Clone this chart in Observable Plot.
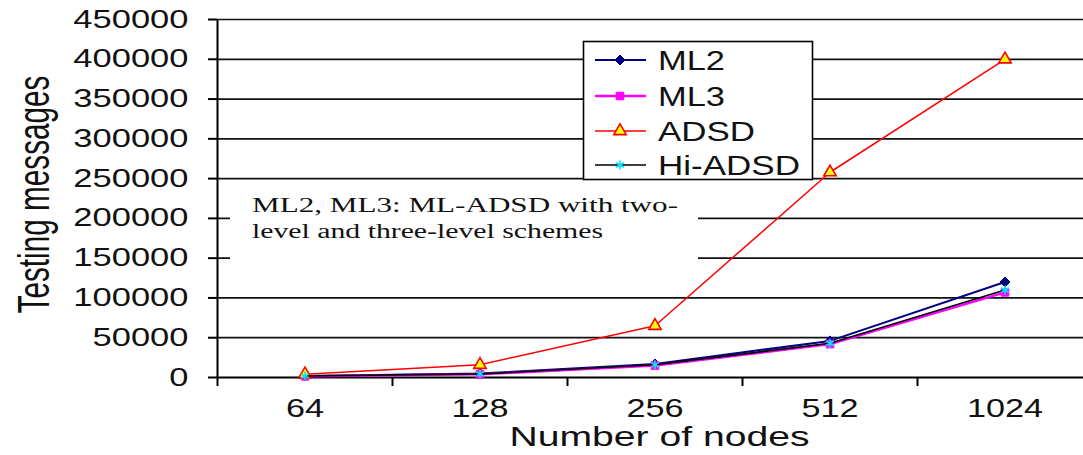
<!DOCTYPE html>
<html><head><meta charset="utf-8">
<script src="https://cdn.jsdelivr.net/npm/d3@7"></script>
<script src="https://cdn.jsdelivr.net/npm/@observablehq/plot@0.6"></script>
<style>
body{margin:0;background:#fff}
#chart{position:relative;width:1083px;height:455px}
</style>
</head><body><div id="chart"></div>
<script>
// ---- data ----
const nodes = ["64", "128", "256", "512", "1024"];
const seriesNames = ["ML2", "ML3", "ADSD", "Hi-ADSD"];
const ml2 = [2000, 5000, 17000, 46000, 120000];
const ml3 = [1500, 4000, 15000, 42000, 107000];
const adsd = [4000, 16000, 65000, 258000, 400000];
const hiAdsd = [1800, 4500, 16000, 43000, 110000];
const yTicks = [0, 50000, 100000, 150000, 200000, 250000, 300000, 350000, 400000, 450000];
const xTitle = "Number of nodes";
const yTitle = "Testing messages";
const annotationLines = ["ML2, ML3: ML-ADSD with two-", "level and three-level schemes"];

// ---- styles ----
const seriesValues = {"ML2": ml2, "ML3": ml3, "ADSD": adsd, "Hi-ADSD": hiAdsd};
const styles = {
  "ML2":     {line: "#000080", lw: 2,   symbol: d3.symbolDiamond2, fill: "#000080", stroke: "#000080", sw: 1, r: 4.5},
  "ML3":     {line: "#ff00ff", lw: 2.5, symbol: d3.symbolSquare,   fill: "#ff00ff", stroke: "#ff00ff", sw: 1, r: 4.3},
  "ADSD":    {line: "#ff0000", lw: 1.5, symbol: d3.symbolTriangle, fill: "#ffff00", stroke: "#ff0000", sw: 1.6, r: 4.6},
  "Hi-ADSD": {line: "#000000", lw: 1.6, symbol: d3.symbolAsterisk, fill: "none",    stroke: "#00e5ff", sw: 1.6, r: 4.2}
};

const rows = seriesNames.flatMap(s => nodes.map((n, i) => ({series: s, nodes: n, value: seriesValues[s][i]})));

const X0 = 217, X1 = 1092, BW = (X1 - X0) / nodes.length;

const marks = [
  Plot.ruleY(yTicks.filter(v => v > 0), {stroke: "#111", strokeWidth: 1.7}),
  Plot.ruleY([0], {stroke: "#000", strokeWidth: 2}),
  Plot.ruleX([nodes[0]], {x: d => d, dx: -BW / 2, y1: 0, y2: yTicks[yTicks.length - 1], stroke: "#000", strokeWidth: 2}),
  Plot.ruleX(nodes, {x: d => d, dx: -BW / 2, y1: 0, y2: 0, insetBottom: -9, stroke: "#000", strokeWidth: 2}),
  Plot.axisY({ticks: yTicks, tickSize: 9, tickPadding: 20, fontSize: 25, tickFormat: d => String(d), label: null, stroke: "#000", strokeWidth: 2, color: "#111"}),
  Plot.axisX({tickSize: 0, tickPadding: 22, fontSize: 25, label: null, color: "#111"}),
  Plot.text([xTitle], {frameAnchor: "bottom", textAnchor: "middle", dy: 68, dx: 9, fontSize: 27, fill: "#111"}),
  Plot.text([yTitle], {frameAnchor: "left", textAnchor: "middle", rotate: -90, dx: -183, dy: -4, fontSize: 44, fill: "#111"})
];
for (const s of seriesNames) {
  const st = styles[s];
  const data = rows.filter(d => d.series === s);
  marks.push(Plot.line(data, {x: "nodes", y: "value", stroke: st.line, strokeWidth: st.lw}));
  marks.push(Plot.dot(data, {x: "nodes", y: "value", symbol: st.symbol, r: st.r, fill: st.fill, stroke: st.stroke, strokeWidth: st.sw}));
}

const chart = Plot.plot({
  width: 1083, height: 455,
  marginLeft: X0, marginRight: 0, marginTop: 19, marginBottom: 78,
  style: {fontFamily: "'Liberation Sans', Arial, sans-serif", background: "#fff", color: "#111"},
  x: {type: "band", domain: nodes, range: [X0, X1], padding: 0},
  y: {domain: [0, 450000], nice: false},
  marks
});
document.getElementById("chart").appendChild(chart);

const svg = chart.tagName.toLowerCase() === "svg" ? chart : chart.querySelector("svg");
// stretch a text along its direction about its anchor point
function stretchTo(t, target) {
  const L = t.getComputedTextLength();
  if (!L) return;
  const sx = target / L;
  const x = parseFloat(t.getAttribute("x")) || 0;
  const tr = t.getAttribute("transform") || "";
  t.setAttribute("transform", `${tr} translate(${x},0) scale(${sx},1) translate(${-x},0)`);
}
svg.querySelectorAll('g[aria-label="y-axis tick label"] text').forEach(t => stretchTo(t, t.textContent.length * 19.2));
svg.querySelectorAll('g[aria-label="x-axis tick label"] text').forEach(t => stretchTo(t, t.textContent.length * 19));
svg.querySelectorAll('text').forEach(t => {
  if (t.textContent === xTitle) stretchTo(t, 300);
  else if (t.textContent === yTitle) stretchTo(t, 238);
});

// ---- annotation box ----
const sel = d3.select(svg);
const ann = sel.append("g").attr("text-anchor", "start");
ann.append("rect").attr("x", 230).attr("y", 183).attr("width", 468).attr("height", 79).attr("fill", "#fff");
const annLens = [426, 351];
annotationLines.forEach((line, i) => {
  ann.append("text").attr("x", 252).attr("y", 212 + i * 26).attr("text-anchor", "start")
    .attr("font-family", "'Liberation Serif', 'Times New Roman', serif").attr("font-size", 20)
    .attr("fill", "#111").attr("textLength", annLens[i]).attr("lengthAdjust", "spacingAndGlyphs")
    .text(line);
});

// ---- legend ----
const lg = sel.append("g").attr("text-anchor", "start");
lg.append("rect").attr("x", 583.5).attr("y", 41.5).attr("width", 229).attr("height", 138)
  .attr("fill", "#fff").attr("stroke", "#000").attr("stroke-width", 1.6);
const rowY = [60, 96, 131, 165];
const labelLens = {"ML2": 67, "ML3": 67, "ADSD": 97, "Hi-ADSD": 142};
seriesNames.forEach((s, i) => {
  const st = styles[s], y = rowY[i];
  lg.append("line").attr("x1", 595).attr("x2", 646).attr("y1", y).attr("y2", y)
    .attr("stroke", st.line).attr("stroke-width", st.lw);
  lg.append("path").attr("transform", `translate(620,${y})`)
    .attr("d", d3.symbol(st.symbol, Math.PI * st.r * st.r)())
    .attr("fill", st.fill).attr("stroke", st.stroke).attr("stroke-width", st.sw);
  lg.append("text").attr("x", 658).attr("y", y + 10).attr("text-anchor", "start")
    .attr("font-family", "'Liberation Sans', Arial, sans-serif").attr("font-size", 27)
    .attr("fill", "#111").attr("textLength", labelLens[s]).attr("lengthAdjust", "spacingAndGlyphs")
    .text(s);
});
</script>
</body></html>
